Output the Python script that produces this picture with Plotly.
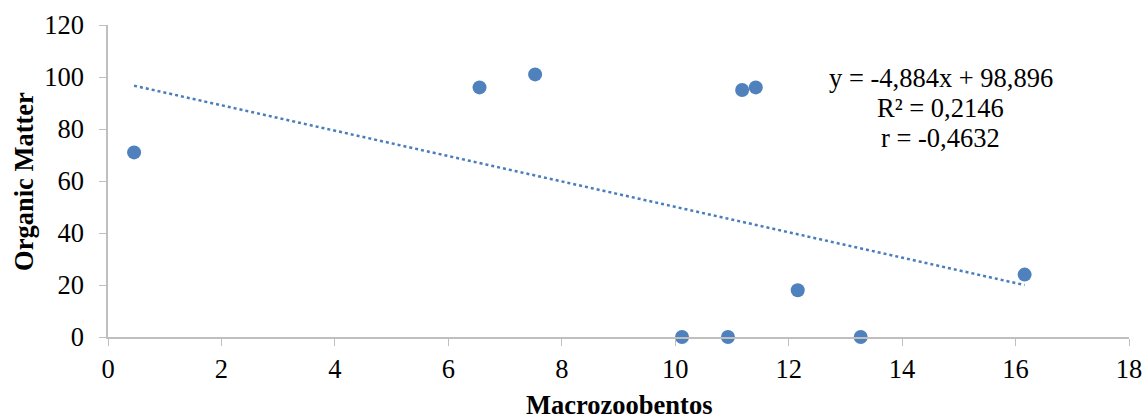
import plotly.graph_objects as go

macrozoobentos = [0.46, 6.55, 7.53, 10.12, 10.93, 11.18, 11.42, 12.16, 13.27, 16.16]
organic_matter = [71, 96, 101, 0, 0, 95, 96, 18, 0, 24]
slope = -4.884
intercept = 98.896
equation_lines = ["y = -4,884x + 98,896", "R² = 0,2146", "r = -0,4632"]
equation_y = [99.6, 88.0, 76.6]
x_ticks = [0, 2, 4, 6, 8, 10, 12, 14, 16, 18]
y_ticks = [0, 20, 40, 60, 80, 100, 120]

FONT = "Liberation Serif"
FS = 26.5

xmin, xmax = min(macrozoobentos), max(macrozoobentos)
trend_x = [xmin, xmax]
trend_y = [slope * v + intercept for v in trend_x]

fig = go.Figure()
fig.add_trace(go.Scatter(x=trend_x, y=trend_y, mode="lines",
                         line=dict(color="#4a7ebb", width=2.5, dash="dot"),
                         showlegend=False, hoverinfo="skip"))
fig.add_trace(go.Scatter(x=macrozoobentos, y=organic_matter, mode="markers",
                         marker=dict(color="#4f81bd", size=14, line=dict(width=0)),
                         showlegend=False, cliponaxis=False))

for txt, yy in zip(equation_lines, equation_y):
    fig.add_annotation(x=14.68, y=yy, xref="x", yref="y", xanchor="center", yanchor="middle",
                       text=txt, showarrow=False,
                       font=dict(family=FONT, size=FS, color="black"))

# axis titles
fig.add_annotation(x=0.5, y=0, xref="paper", yref="paper", xanchor="center", yanchor="middle",
                   yshift=-68, text="<b>Macrozoobentos</b>", showarrow=False,
                   font=dict(family=FONT, size=FS, color="black"))
fig.add_annotation(x=0, y=0.497, xref="paper", yref="paper", xanchor="center", yanchor="middle",
                   xshift=-84, textangle=-90, text="<b>Organic Matter</b>", showarrow=False,
                   font=dict(family=FONT, size=FS, color="black"))

axis_common = dict(showline=True, linecolor="#bfbfbf", linewidth=1.5, showgrid=False,
                   zeroline=False, ticks="outside", tickcolor="#bfbfbf", ticklen=7,
                   automargin=False,
                   tickfont=dict(family=FONT, size=FS, color="black"))
fig.update_xaxes(range=[0, 18], tickvals=x_ticks, **axis_common)
fig.update_yaxes(range=[0, 120], tickvals=y_ticks, ticklabelstandoff=10, **axis_common)

fig.update_layout(width=1145, height=419, plot_bgcolor="white", paper_bgcolor="white",
                  margin=dict(l=108, r=16, t=25, b=82))
fig.write_html("out.html", config={"displayModeBar": False},
               post_script="document.body.style.margin='0';document.body.style.overflow='hidden';")
